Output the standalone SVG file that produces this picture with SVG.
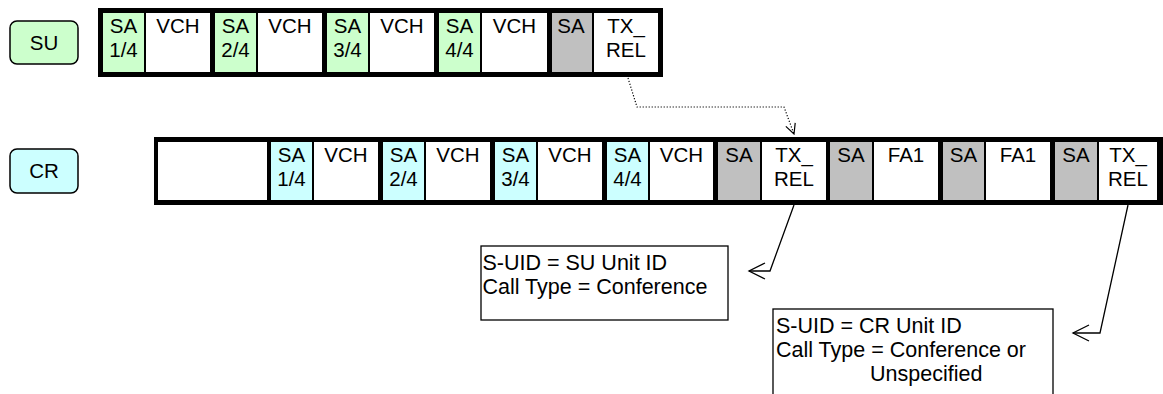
<svg xmlns="http://www.w3.org/2000/svg" width="1163" height="394" viewBox="0 0 1163 394">
<style>
text{font-family:"Liberation Sans",Arial,sans-serif;fill:#000}
.c{font-size:20.5px;text-anchor:middle}
.b{font-size:21.5px}
.frame{fill:#000}
.g{fill:#CCFFCC}
.y{fill:#CCFFFF}
.s{fill:#C0C0C0}
.w{fill:#fff}
.lbl{stroke:#000;stroke-width:1.5}
.note{fill:#fff;stroke:#000;stroke-width:1.3}
.ln{fill:none;stroke:#000;stroke-width:1.3}
.dot{fill:none;stroke:#000;stroke-width:1.2;stroke-dasharray:1.2 1.8}
</style>
<defs>
<marker id="open" markerUnits="userSpaceOnUse" viewBox="0 0 20 20" markerWidth="20" markerHeight="20" refX="18" refY="10" orient="auto">
<path d="M2,2 L18,10 L2,18" fill="none" stroke="#000" stroke-width="1.3"/>
</marker>
<marker id="small" markerUnits="userSpaceOnUse" viewBox="0 0 12 12" markerWidth="12" markerHeight="12" refX="11" refY="6" orient="auto">
<path d="M1,1 L11,6 L1,11" fill="none" stroke="#000" stroke-width="1.2"/>
</marker>
</defs>

<g id="su-label">
<rect class="lbl g" x="10" y="21" width="68" height="43" rx="7"/>
<text class="c" x="44" y="49.5">SU</text>
</g>

<g id="cr-label">
<rect class="lbl y" x="10" y="149" width="68" height="44" rx="7"/>
<text class="c" x="44" y="178">CR</text>
</g>

<g id="su-row">
<rect class="frame" x="98" y="8" width="565" height="69"/>
<rect class="g" x="103" y="13" width="41" height="59"/>
<rect class="w" x="146" y="13" width="64" height="59"/>
<rect class="g" x="215" y="13" width="41" height="59"/>
<rect class="w" x="258" y="13" width="64" height="59"/>
<rect class="g" x="327" y="13" width="41" height="59"/>
<rect class="w" x="370" y="13" width="64" height="59"/>
<rect class="g" x="439" y="13" width="41" height="59"/>
<rect class="w" x="482" y="13" width="65" height="59"/>
<rect class="s" x="552" y="13" width="40" height="59"/>
<rect class="w" x="594" y="13" width="64" height="59"/>
<text class="c" x="123.5" y="32.5">SA</text><text class="c" x="123.5" y="57">1/4</text>
<text class="c" x="178" y="32.5">VCH</text>
<text class="c" x="235.5" y="32.5">SA</text><text class="c" x="235.5" y="57">2/4</text>
<text class="c" x="290" y="32.5">VCH</text>
<text class="c" x="347.5" y="32.5">SA</text><text class="c" x="347.5" y="57">3/4</text>
<text class="c" x="402" y="32.5">VCH</text>
<text class="c" x="459.5" y="32.5">SA</text><text class="c" x="459.5" y="57">4/4</text>
<text class="c" x="514.5" y="32.5">VCH</text>
<text class="c" x="571" y="32.5">SA</text>
<text class="c" x="626" y="32.5">TX_</text><text class="c" x="626" y="57">REL</text>
</g>

<g id="cr-row">
<rect class="frame" x="154" y="137" width="1009" height="68"/>
<rect class="w" x="158" y="142" width="109" height="58"/>
<rect class="y" x="271" y="142" width="41" height="58"/>
<rect class="w" x="314" y="142" width="64" height="58"/>
<rect class="y" x="383" y="142" width="41" height="58"/>
<rect class="w" x="426" y="142" width="64" height="58"/>
<rect class="y" x="495" y="142" width="41" height="58"/>
<rect class="w" x="538" y="142" width="64" height="58"/>
<rect class="y" x="607" y="142" width="41" height="58"/>
<rect class="w" x="650" y="142" width="63" height="58"/>
<rect class="s" x="718" y="142" width="42" height="58"/>
<rect class="w" x="762" y="142" width="64" height="58"/>
<rect class="s" x="830" y="142" width="42" height="58"/>
<rect class="w" x="874" y="142" width="64" height="58"/>
<rect class="s" x="943" y="142" width="41" height="58"/>
<rect class="w" x="986" y="142" width="64" height="58"/>
<rect class="s" x="1055" y="142" width="42" height="58"/>
<rect class="w" x="1099" y="142" width="58" height="58"/>
<text class="c" x="291.5" y="161.5">SA</text><text class="c" x="291.5" y="186">1/4</text>
<text class="c" x="346" y="161.5">VCH</text>
<text class="c" x="403.5" y="161.5">SA</text><text class="c" x="403.5" y="186">2/4</text>
<text class="c" x="458" y="161.5">VCH</text>
<text class="c" x="515.5" y="161.5">SA</text><text class="c" x="515.5" y="186">3/4</text>
<text class="c" x="570" y="161.5">VCH</text>
<text class="c" x="627.5" y="161.5">SA</text><text class="c" x="627.5" y="186">4/4</text>
<text class="c" x="681.5" y="161.5">VCH</text>
<text class="c" x="739" y="161.5">SA</text>
<text class="c" x="794" y="161.5">TX_</text><text class="c" x="794" y="186">REL</text>
<text class="c" x="851" y="161.5">SA</text>
<text class="c" x="906" y="161.5">FA1</text>
<text class="c" x="963.5" y="161.5">SA</text>
<text class="c" x="1018" y="161.5">FA1</text>
<text class="c" x="1076" y="161.5">SA</text>
<text class="c" x="1128" y="161.5">TX_</text><text class="c" x="1128" y="186">REL</text>
</g>

<g id="note1">
<rect class="note" x="481" y="246" width="247" height="74"/>
<text class="b" x="482.5" y="270">S-UID = SU Unit ID</text>
<text class="b" x="482.5" y="293.5">Call Type = Conference</text>
</g>

<g id="note2">
<rect class="note" x="773" y="309" width="280" height="100"/>
<text class="b" x="776" y="333">S-UID = CR Unit ID</text>
<text class="b" x="776" y="357">Call Type = Conference or</text>
<text class="b" x="870" y="381">Unspecified</text>
</g>

<g id="connectors">
<path class="dot" d="M628,78 L637,107 L784,107 L794,134" marker-end="url(#small)"/>
<path class="ln" d="M794,205 L770,271 L749,271" marker-end="url(#open)"/>
<path class="ln" d="M1128,205 L1100,333 L1073,333" marker-end="url(#open)"/>
</g>
</svg>
